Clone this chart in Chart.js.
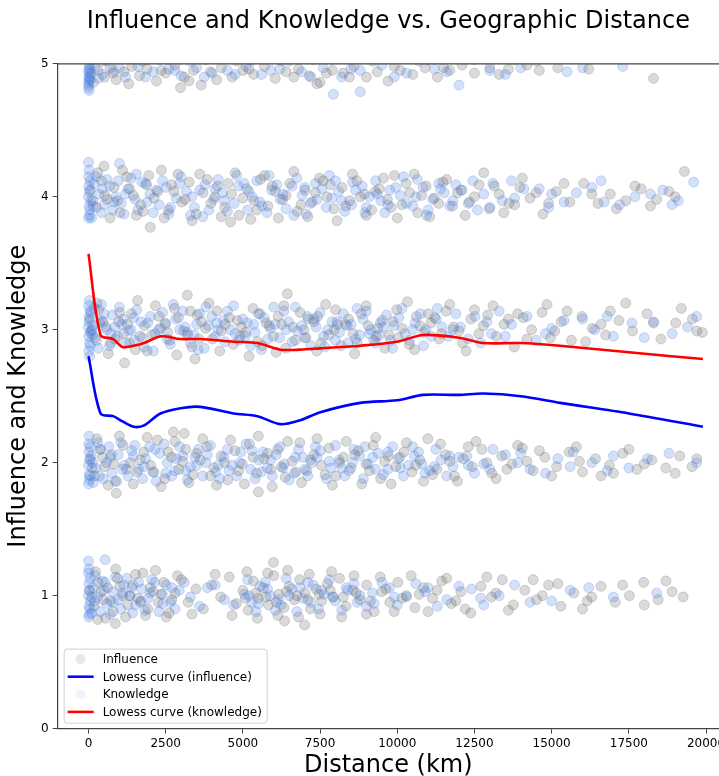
<!DOCTYPE html>
<html>
<head>
<meta charset="utf-8">
<script src="https://cdn.jsdelivr.net/npm/chart.js@4.4.1/dist/chart.umd.min.js"></script>
<style>
  body { margin: 0; background: #fff; }
</style>
</head>
<body>
<canvas id="chart" width="719" height="776"></canvas>
<script>
// axis ticks
const xTicks = [0, 2500, 5000, 7500, 10000, 12500, 15000, 17500, 20000];
const yTicks = [0, 1, 2, 3, 4, 5];

// lowess curves
const lowessX = [0, 390, 800, 1100, 1460, 1800, 2330, 2980, 3620, 4700, 5470, 6210, 6860, 7510, 8800, 10000, 10840, 12000, 12780, 14000, 15270, 17500, 19900];
const lowessInfluence = [2.80, 2.37, 2.35, 2.31, 2.27, 2.28, 2.37, 2.41, 2.42, 2.37, 2.35, 2.29, 2.32, 2.38, 2.45, 2.47, 2.51, 2.51, 2.52, 2.50, 2.45, 2.37, 2.27];
const lowessKnowledge = [3.57, 2.96, 2.93, 2.87, 2.88, 2.90, 2.95, 2.93, 2.93, 2.91, 2.90, 2.85, 2.85, 2.86, 2.88, 2.91, 2.96, 2.94, 2.90, 2.90, 2.88, 2.83, 2.78];

// influence scatter (distance km, score)
const influence1 = [[40,1.04],[180,0.92],[310,1.1],[470,0.97],[620,1.06],[790,0.88],[940,1.13],[1100,1.0],[1270,0.93],[1430,1.08],[1590,0.98],[1760,1.17],[1920,0.9],[2090,1.03],[2260,0.95],[2440,1.1],[2610,0.87],[2800,1.02],[3010,1.12],[3230,0.95],[3480,1.05],[3720,0.9],[3990,1.08],[4280,0.99],[4560,1.14],[4790,0.94],[5000,1.04],[5170,0.89],[5340,1.11],[5500,0.98],[5660,1.06],[5830,0.93],[6000,1.15],[6160,1.01],[6330,0.91],[6500,1.07],[6670,0.97],[6840,1.12],[7010,1.02],[7190,0.9],[7370,1.05],[7550,0.96],[7740,1.09],[7930,0.99],[8130,1.13],[8340,0.92],[8560,1.04],[8790,0.97],[9010,1.08],[9250,0.88],[9500,1.03],[9760,0.95],[10020,1.1],[10290,1.0],[10570,0.91],[10850,1.06],[11140,0.98],[11440,1.11],[11750,0.94],[12060,1.03],[12380,0.87],[12710,1.07],[13050,0.99],[13400,1.12],[13760,0.93],[14130,1.04],[14510,0.97],[14900,1.08],[15300,0.92],[15720,1.02],[16150,0.96],[16600,1.07],[17060,0.95],[17520,1.0],[17980,1.1],[18450,0.97],[18900,1.03],[19260,0.99],
  [100,0.99],[400,1.03],[710,0.96],[1020,1.07],[1350,1.0],[1680,0.95],[2000,1.06],[2350,1.01],[2700,0.97],[5080,0.98],[5420,1.02],[5750,0.99],[6080,0.95],[6410,1.03],[6750,1.0],[7100,0.97],[7460,1.01],[7830,1.04],[8250,0.99],[8670,1.02],[9130,0.96],[9630,1.05],[10160,0.98],[10710,1.01],[11290,1.04],[11900,0.96],[13200,1.02],[14700,1.0],[16300,0.99],[5990,1.25],
  [230,1.18],[550,0.83],[880,1.2],[1200,0.84],[1520,1.16],[1850,0.85],[2170,1.19],[2520,0.84],[2880,1.15],[3350,0.86],[4100,1.16],[4650,0.85],[5130,1.18],[5470,0.83],[5800,1.17],[6130,0.85],[6450,1.19],[6800,0.84],[7150,1.16],[7500,0.86],[7870,1.18],[8200,0.84],[8600,1.15],[9000,0.86],[9450,1.14],[9900,0.88],[10450,1.15],[11000,0.88],[11600,1.13],[12200,0.9],[12900,1.14],[13600,0.89],[14400,1.12],[15200,1.09],[16000,0.9],[17300,1.08],[18000,0.93],[18700,1.11],[300,0.82],[870,0.79],[6350,0.81],[7000,0.78]];
const influence2 = [[50,2.03],[190,1.9],[370,2.1],[520,1.97],[740,2.06],[910,1.86],[1120,2.13],[1350,2.0],[1570,1.93],[1790,2.08],[2010,1.98],[2230,2.17],[2470,1.88],[2690,2.04],[2930,1.95],[3150,2.1],[3380,1.91],[3620,2.02],[3840,2.12],[4060,1.96],[4290,2.05],[4510,1.87],[4740,2.09],[4980,1.99],[5210,2.14],[5440,1.92],[5680,2.03],[5910,1.95],[6130,2.1],[6370,1.89],[6600,2.01],[6840,2.15],[7070,1.94],[7300,2.06],[7540,1.98],[7790,2.11],[8010,1.9],[8260,2.04],[8500,1.96],[8740,2.09],[8990,1.99],[9220,2.13],[9460,1.88],[9710,2.05],[9950,1.97],[10210,2.08],[10470,1.93],[10730,2.02],[10990,2.18],[11280,1.95],[11560,2.06],[11850,1.9],[12140,2.03],[12430,1.97],[12740,2.1],[13060,1.92],[13380,2.05],[13710,1.99],[14050,2.11],[14400,1.94],[14780,2.04],[15160,1.97],[15570,2.08],[16000,1.93],[16420,2.03],[16870,1.98],[17300,2.07],[17760,1.95],[18240,2.02],[18700,1.96],[19150,2.05],[19550,1.97],
  [120,1.96],[450,2.04],[820,1.99],[1230,1.95],[1680,2.02],[2120,1.93],[2580,2.08],[3040,2.01],[3500,2.07],[3950,1.9],[4400,2.0],[4860,1.94],[5330,2.04],[5800,2.07],[6250,1.97],[6720,1.93],[7190,2.02],[7660,1.91],[8130,2.0],[8620,2.06],[9100,1.94],[9590,2.01],[10080,2.04],[10600,1.98],[11140,1.91],[11700,2.01],[12300,2.12],[12900,2.0],[13550,1.95],[14600,2.09],[15900,2.01],[17000,1.92],
  [270,2.18],[640,1.83],[1000,2.2],[1450,1.84],[1900,2.19],[2350,1.82],[2800,2.16],[3250,1.85],[3700,2.18],[4150,1.83],[4600,2.17],[5050,1.84],[5500,2.2],[5950,1.82],[6450,2.16],[6900,1.85],[7400,2.18],[7900,1.83],[8350,2.16],[8850,1.84],[9300,2.19],[9800,1.84],[10300,2.15],[10850,1.86],[11400,2.14],[11950,1.86],[12550,2.16],[13200,1.88],[13900,2.13],[14200,2.01],[15000,1.9],[15800,2.12],[16600,1.9],[17500,2.1],[18000,1.99],[19000,1.92],[19700,2.03],[2750,2.23],[3100,2.22],[900,1.77],[5500,1.78]];
const influence3 = [[40,3.08],[210,2.94],[330,3.15],[560,3.02],[720,2.9],[980,3.06],[1130,2.97],[1390,3.12],[1520,2.85],[1810,3.03],[2050,2.96],[2170,3.18],[2480,3.05],[2630,2.92],[2910,3.09],[3080,2.99],[3350,2.87],[3520,3.11],[3790,3.01],[4010,2.93],[4160,3.14],[4430,3.04],[4690,2.89],[4820,3.07],[5090,2.98],[5330,3.16],[5480,2.91],[5760,3.05],[5990,2.95],[6140,3.1],[6390,2.86],[6620,3.02],[6850,3.13],[7040,2.94],[7310,3.06],[7530,2.9],[7680,3.19],[7960,3.0],[8180,2.88],[8420,3.08],[8570,2.97],[8830,3.12],[9060,3.03],[9240,2.92],[9510,3.07],[9730,2.96],[9980,3.15],[10160,3.01],[10390,2.89],[10620,3.1],[10870,2.98],[11090,3.05],[11360,2.93],[11580,3.14],[11820,3.02],[12110,2.9],[12380,3.08],[12640,2.97],[12930,3.11],[13210,2.95],[13460,3.04],[13790,2.87],[14080,3.09],[14350,3.0],[14690,3.13],[14960,2.94],[15310,3.06],[15640,2.92],[15980,3.1],[16320,3.01],[16750,2.96],[17180,3.07],[17620,2.99],[18090,3.12],[18540,2.93],[19020,3.05],[19560,3.08],[19880,2.98],
  [90,2.99],[470,3.06],[860,2.93],[1260,3.04],[1660,2.95],[2330,3.01],[2780,3.16],[3210,2.96],[3660,3.06],[4300,2.99],[4950,3.02],[5620,2.88],[6260,3.04],[6980,3.0],[7420,3.1],[8060,3.04],[8700,2.9],[9370,3.01],[10030,2.94],[10740,3.03],[11210,3.09],[12000,2.99],[12790,3.03],[13600,3.08],[15100,2.99],[16600,3.04],
  [270,3.2],[640,2.82],[1010,3.13],[1330,2.9],[1590,3.22],[1900,2.84],[2280,3.1],[2560,2.98],[2860,2.81],[3300,3.14],[3580,2.93],[3900,3.2],[4250,2.84],[4560,3.09],[4900,2.95],[5200,2.8],[5550,3.12],[5850,3.03],[6080,2.83],[6330,3.18],[6700,2.92],[7120,3.08],[7390,2.84],[7780,2.96],[8000,3.15],[8330,3.04],[8620,2.82],[8990,3.18],[9320,2.95],[9600,2.86],[9860,3.06],[10330,3.21],[10560,2.85],[11000,3.12],[11430,2.97],[11700,3.19],[12230,2.84],[12500,3.15],[13100,3.18],[13900,3.12],[14200,2.93],[14850,3.19],[15500,3.14],[16100,2.91],[16900,3.14],[17400,3.2],[18300,3.05],[19200,3.16],[19700,2.99],[3200,3.26],[6440,3.27],[1170,2.75],[3450,2.78]];
const influence4 = [[60,4.05],[250,3.92],[420,4.12],[610,3.98],[830,4.07],[1020,3.88],[1240,4.15],[1450,4.01],[1690,3.94],[1880,4.09],[2120,3.99],[2360,4.2],[2590,3.9],[2770,4.04],[3020,3.96],[3260,4.11],[3490,3.87],[3710,4.03],[3960,3.95],[4180,4.08],[4410,3.92],[4630,4.02],[4870,3.86],[5120,4.06],[5360,3.97],[5570,4.13],[5810,3.93],[6050,4.04],[6290,3.98],[6520,4.1],[6760,3.89],[7010,4.05],[7240,3.96],[7480,4.14],[7720,4.0],[7950,3.91],[8210,4.07],[8460,3.97],[8690,4.12],[8940,4.02],[9170,3.9],[9420,4.06],[9680,3.98],[9910,4.16],[10150,3.94],[10400,4.03],[10660,3.88],[10930,4.08],[11200,3.99],[11480,4.11],[11790,3.93],[12060,4.05],[12340,3.96],[12650,4.09],[12980,3.91],[13300,4.02],[13620,3.95],[13970,4.07],[14300,3.99],[14720,3.87],[15150,4.04],[15590,3.96],[16040,4.1],[16500,3.95],[16900,4.02],[17400,3.97],[17900,4.06],[18400,3.98],[18800,4.04],[19300,4.19],
  [140,3.97],[530,4.01],[940,3.97],[1330,4.06],[1770,3.89],[2240,4.04],[2690,4.09],[3130,3.98],[3600,4.17],[4090,4.0],[4520,4.1],[5000,3.99],[5450,3.9],[5950,4.08],[6400,4.01],[6880,3.94],[7350,4.03],[7830,4.09],[8330,3.93],[8800,4.0],[9290,4.04],[9800,3.92],[10280,4.1],[10790,4.01],[11340,3.95],[11950,4.03],[12500,4.0],[13140,4.08],[13800,3.94],[14500,4.03],
  [300,4.18],[700,3.84],[1100,4.2],[1550,3.86],[1950,4.16],[2450,3.84],[2900,4.17],[3350,3.82],[3850,4.13],[4300,3.85],[4750,4.18],[5250,3.83],[5700,4.16],[6150,3.84],[6650,4.19],[7100,3.85],[7600,4.12],[8050,3.82],[8550,4.17],[9000,3.86],[9550,4.14],[10000,3.84],[10550,4.17],[11050,3.85],[11600,4.13],[12200,3.86],[12800,4.18],[13450,3.88],[14050,4.14],[14900,3.95],[15400,4.1],[16300,4.02],[17100,3.91],[17700,4.08],[18200,3.93],[19000,4.0],[500,4.23],[2000,3.77],[4600,3.81]];
const influence5 = [[80,4.93],[300,4.95],[520,4.9],[700,4.97],[900,4.88],[1150,4.94],[1400,4.98],[1650,4.91],[1900,4.96],[2200,4.87],[2500,4.93],[2800,4.99],[3100,4.9],[3400,4.95],[3650,4.84],[3950,4.94],[4300,4.97],[4650,4.9],[5000,4.95],[5350,4.92],[5700,4.98],[6050,4.89],[6400,4.94],[6800,4.96],[7150,4.91],[7500,4.86],[7900,4.95],[8250,4.93],[8600,4.98],[9000,4.9],[9350,4.94],[9700,4.87],[10100,4.95],[10500,4.92],[10900,4.97],[11300,4.9],[11700,4.95],[12100,4.99],[12500,4.93],[13000,4.97],[13600,4.96],[14200,4.99],[15200,4.97],[16200,4.96],[18300,4.89],[2000,5.05],[6000,5.04],[9000,5.06],[11000,5.03],
  [150,4.86],[450,5.02],[800,4.93],[1050,5.05],[1300,4.85],[1750,5.02],[2350,4.95],[2650,5.05],[3250,4.87],[3800,5.03],[4150,4.88],[4800,5.02],[5200,4.96],[5500,5.06],[6250,5.02],[6650,4.9],[7300,5.03],[7700,4.93],[8100,5.05],[8450,4.9],[9200,5.02],[9900,4.98],[10700,5.04],[11500,4.97],[12300,5.05],[13300,4.92],[13800,5.03],[14600,4.95],[2980,4.82],[7400,4.85]];

// knowledge scatter (distance km, score)
const knowledge1 = [[0,1.0],[10,1.09],[20,0.92],[5,1.17],[30,0.86],[25,1.04],[60,0.96],[150,1.06],[290,0.99],[450,1.11],[600,0.94],[780,1.03],[960,0.97],[1140,1.08],[1330,1.0],[1520,0.93],[1720,1.05],[1930,0.98],[2150,1.1],[2390,1.01],[2650,0.95],[2940,1.04],[3300,0.99],[3850,1.06],[4400,0.97],[5050,1.01],[5280,0.95],[5560,1.07],[5880,1.0],[6230,0.93],[6580,1.05],[6930,0.98],[7280,1.08],[7630,1.01],[7990,0.96],[8390,1.04],[8800,1.0],[9250,0.94],[9750,1.06],[10300,0.99],[10900,1.03],[11600,0.97],[12400,1.05],[13300,1.0],[14300,0.95],[15600,1.04],[17000,0.99],[18400,1.02],[0,1.26],[540,1.27],
  [3,0.84],[15,1.2],[40,0.9],[50,1.13],[100,0.87],[220,1.15],[380,0.88],[530,1.1],[700,0.86],[870,1.14],[1050,0.9],[1240,1.13],[1430,0.87],[1620,1.1],[1830,0.89],[2050,1.12],[2280,0.88],[2520,1.08],[2800,0.9],[3100,1.1],[3600,0.92],[4100,1.08],[4700,0.93],[5150,1.12],[5420,0.88],[5720,1.1],[6050,0.89],[6400,1.13],[6750,0.88],[7100,1.1],[7450,0.9],[7800,1.12],[8200,0.89],[8600,1.09],[9000,0.92],[9500,1.1],[10000,0.93],[10600,1.09],[11300,0.92],[12000,1.07],[12800,0.93],[13800,1.08],[15000,0.96],[16200,1.06],
  [200,0.96],[500,1.04],[800,0.95],[1100,1.02],[1400,1.06],[1700,0.96],[2000,1.02],[2400,0.94],[2700,1.06],[5200,1.0],[5500,0.94],[5800,1.05],[6150,0.97],[6500,1.0],[6850,1.06],[7200,0.95],[7550,1.04],[7900,0.99],[8350,1.06],[8700,0.95],[9200,1.02],[9900,0.99],[11000,1.06],[12700,0.98]];
const knowledge2 = [[0,1.98],[12,2.08],[22,1.91],[6,2.14],[40,2.02],[30,1.87],[90,2.05],[230,1.96],[400,2.1],[580,2.0],[760,1.92],[960,2.06],[1160,1.98],[1400,2.09],[1620,1.95],[1850,2.03],[2080,1.93],[2310,2.07],[2550,2.0],[2800,1.94],[3060,2.05],[3300,1.97],[3560,2.1],[3800,2.0],[4120,1.93],[4380,2.04],[4650,1.98],[4930,2.08],[5250,1.95],[5520,2.02],[5790,1.96],[6080,2.06],[6340,1.99],[6660,1.92],[6950,2.04],[7230,2.0],[7510,2.09],[7850,1.96],[8120,2.02],[8440,1.94],[8780,2.05],[9050,1.99],[9380,2.07],[9690,1.95],[10020,2.03],[10360,1.98],[10690,2.08],[11050,1.94],[11420,2.02],[11800,1.97],[12250,2.05],[12800,1.99],[13500,2.06],[14300,1.95],[15200,2.03],[16300,2.0],[17500,1.96],[18800,2.07],[19700,2.0],
  [3,1.84],[18,2.2],[45,1.9],[60,2.12],[150,1.85],[300,2.15],[480,1.88],[660,2.12],[860,1.86],[1050,2.15],[1280,1.9],[1500,2.13],[1750,1.88],[1980,2.12],[2200,1.86],[2450,2.14],[2700,1.9],[2950,2.12],[3200,1.87],[3450,2.04],[3700,1.9],[3950,2.13],[4250,1.88],[4500,2.1],[4800,1.9],[5100,2.14],[5400,1.88],[5650,2.08],[5950,1.9],[6200,2.12],[6500,1.87],[6800,2.1],[7100,1.9],[7400,2.04],[7700,1.88],[8000,2.13],[8300,1.9],[8600,2.1],[8900,1.88],[9200,2.04],[9550,1.91],[9850,2.12],[10200,1.9],[10550,2.05],[10900,1.92],[11250,2.1],[11600,1.9],[12000,2.04],[12500,1.92],[13100,2.1],[13900,2.0],[14800,1.92],[15700,2.08],[16800,1.94],[18100,2.03],
  [130,2.0],[350,1.9],[700,2.04],[1100,1.95],[1450,2.05],[1800,1.97],[2150,2.1],[2500,1.92],[2850,2.03],[3150,1.94],[3500,1.98],[3850,2.06],[4200,1.98],[4550,1.94],[4900,2.0],[5300,2.09],[5600,1.93],[5900,2.02],[6300,1.96],[6700,2.04],[7000,1.95],[7350,2.12],[7800,2.01],[8200,1.96],[8550,2.0],[8950,2.12],[9300,1.95],[9700,2.08],[10100,1.96],[10500,2.12],[10800,1.99],[11200,1.97],[11700,2.05],[12300,1.98],[13000,1.95],[14000,2.07],[15600,1.97],[17000,2.05]];
const knowledge3 = [[0,3.02],[10,2.95],[20,3.1],[30,2.9],[15,3.06],[50,2.98],[80,3.13],[140,3.03],[260,2.92],[410,3.07],[590,3.0],[770,3.11],[940,2.95],[1080,3.04],[1310,2.99],[1460,3.09],[1740,2.94],[1920,3.05],[2260,3.0],[2540,2.93],[2820,3.08],[3130,3.02],[3410,2.96],[3600,3.12],[3880,3.03],[4090,2.95],[4370,3.07],[4600,3.0],[4880,2.92],[5150,3.05],[5390,2.98],[5690,3.09],[5890,3.01],[6190,2.94],[6480,3.06],[6760,2.99],[7090,3.1],[7370,3.02],[7610,2.95],[7890,3.06],[8130,2.98],[8380,3.03],[8650,2.93],[8890,3.08],[9130,3.0],[9420,2.96],[9650,3.11],[9890,3.03],[10250,2.97],[10580,3.05],[10920,3.0],[11270,3.08],[11650,2.95],[12050,3.02],[12520,3.1],[13050,2.97],[13700,3.04],[14500,2.92],[15400,3.07],[16400,3.0],[17600,3.05],[18900,2.97],[19700,3.1],
  [5,3.18],[12,2.84],[28,3.22],[35,2.8],[45,3.14],[60,2.88],[110,3.0],[190,3.16],[320,2.86],[360,3.05],[500,3.12],[680,2.88],[850,3.02],[1000,3.17],[1200,2.9],[1380,3.0],[1560,3.15],[1800,2.87],[2000,3.1],[2150,2.97],[2400,3.13],[2650,2.89],[2950,3.0],[3050,3.14],[3300,2.9],[3500,3.04],[3750,2.86],[3990,3.1],[4200,3.0],[4500,3.14],[4750,2.97],[5000,3.08],[5250,2.88],[5500,3.12],[5800,2.93],[6050,3.04],[6330,3.14],[6600,2.91],[6900,3.03],[7200,2.88],[7500,3.13],[7750,3.0],[8000,2.92],[8250,3.12],[8500,3.04],[8780,2.96],[9000,3.14],[9300,2.9],[9550,3.02],[9780,2.92],[10050,3.09],[10400,2.92],[10750,3.12],[11100,2.95],[11450,3.02],[11900,3.12],[12300,2.93],[12900,3.06],[13500,2.95],[14200,3.1],[15000,3.01],[16000,3.08],[17000,2.95],[18300,3.06],[19400,3.02],
  [130,2.96],[420,3.19],[730,2.97],[1120,3.08],[1480,2.92],[1700,3.06],[2100,2.84],[2500,3.04],[2750,3.19],[3200,2.98],[3550,2.85],[3800,3.17],[4150,3.05],[4420,2.91],[4700,3.18],[5080,2.95],[5350,3.04],[5600,2.85],[6000,3.17],[6400,3.0],[6700,3.17],[7000,2.94],[7300,3.08],[7650,2.87],[8050,3.06],[8400,2.9],[8700,3.16],[9100,2.97],[9450,3.05],[9850,2.86],[10150,3.16],[10500,3.0],[10850,2.88],[11300,3.16],[11800,3.0],[12700,2.9],[13300,3.14],[14800,2.97],[16800,3.1],[18000,2.94]];
const knowledge4 = [[0,4.0],[10,4.08],[20,3.93],[5,4.15],[35,3.86],[25,4.04],[70,3.97],[180,4.1],[340,4.02],[500,3.94],[690,4.08],[880,4.0],[1060,3.95],[1280,4.06],[1510,3.98],[1730,4.11],[1990,4.02],[2280,3.94],[2510,4.07],[2840,3.99],[3170,4.04],[3430,3.92],[3770,4.09],[4050,3.98],[4340,4.03],[4720,3.95],[5040,4.1],[5300,4.0],[5620,3.93],[5930,4.05],[6210,3.98],[6590,4.08],[6920,4.01],[7190,3.95],[7560,4.06],[7880,3.99],[8100,4.04],[8520,3.94],[8860,4.08],[9100,4.0],[9470,3.97],[9760,4.05],[10100,4.01],[10500,3.93],[10840,4.07],[11150,3.98],[11520,4.03],[11900,4.09],[12300,3.95],[12800,4.02],[13400,3.97],[14100,4.06],[14900,3.92],[15800,4.03],[16700,3.96],[17700,4.0],[18600,4.05],[19600,4.11],[0,4.26],[1000,4.25],
  [3,3.84],[18,4.2],[40,3.9],[55,4.12],[100,3.84],[250,4.15],[420,3.88],[600,4.13],[780,3.9],[960,4.12],[1150,3.87],[1380,4.14],[1600,3.9],[1850,4.1],[2100,3.88],[2400,4.12],[2650,3.92],[2950,4.1],[3300,3.86],[3600,4.05],[3900,3.9],[4200,4.13],[4500,3.89],[4850,4.08],[5150,3.9],[5450,4.12],[5780,3.88],[6100,4.09],[6400,3.91],[6750,4.14],[7050,3.87],[7350,4.1],[7700,3.92],[8000,4.12],[8300,3.89],[8650,4.05],[9000,3.92],[9300,4.12],[9600,3.88],[9950,4.07],[10300,3.95],[10650,4.13],[11000,3.9],[11350,4.1],[11700,3.93],[12100,4.05],[12600,3.9],[13100,4.1],[13800,3.99],[14600,4.06],[15400,3.96],[16300,4.07],[17200,3.94],[18200,4.02],[19100,3.97],
  [150,3.93],[450,4.06],[820,3.96],[1200,4.02],[1550,4.17],[1900,3.96],[2200,4.05],[2600,3.87],[3000,4.15],[3350,4.0],[3700,3.85],[4100,4.06],[4400,3.97],[4800,4.16],[5200,4.04],[5550,3.96],[5850,4.16],[6300,4.02],[6650,3.86],[7000,4.07],[7400,3.98],[7800,4.16],[8200,3.97],[8550,4.11],[8950,3.88],[9350,4.02],[9700,3.94],[10200,4.15],[10600,4.0],[10950,3.86],[11400,4.06],[11800,3.97],[12450,4.12],[13000,3.92],[13700,4.12],[15000,4.02],[16600,4.12],[18900,3.94]];
const knowledge5 = [[0,4.95],[10,4.9],[20,4.98],[5,4.86],[15,4.93],[30,5.0],[25,4.88],[40,4.96],[8,4.84],[200,4.97],[450,4.92],[800,4.95],[1200,4.9],[1600,4.98],[2100,4.94],[2600,4.96],[3000,4.91],[3500,4.97],[4000,4.93],[4500,4.95],[5100,4.98],[5600,4.92],[6200,4.96],[6900,4.94],[7600,4.97],[8200,4.9],[8800,4.95],[9500,4.99],[10300,4.93],[11200,4.96],[12000,4.84],[13000,4.95],[14000,4.97],[15500,4.94],
  [2,4.82],[12,5.04],[22,4.8],[35,4.9],[18,5.08],[50,4.88],[120,5.03],[320,4.89],[600,5.02],[1000,4.97],[1400,5.04],[1850,4.9],[2300,5.03],[2800,4.95],[3300,5.02],[3750,4.9],[4250,5.04],[4750,4.92],[5300,5.03],[5900,4.95],[6500,5.02],[7200,4.9],[7900,5.03],[8500,4.96],[9200,5.04],[9900,4.9],[10700,5.02],[11600,4.94],[12500,5.03],[13500,4.92],[14500,5.02],[16000,4.97],[17300,4.98],[7930,4.77],[8800,4.79]];

const toXY = (pairs) => pairs.map(p => ({ x: p[0], y: p[1] }));
const lowessPoints = (ys) => lowessX.map((x, i) => ({ x: x, y: ys[i] }));

const FONT = 'DejaVu Sans';
const GRAY = 'rgba(80,80,80,0.21)';
const LIGHTBLUE = 'rgba(65,120,225,0.23)';

// top spine + legend in lower left corner of the axes
Chart.register({
    id: 'axesExtras',
    afterDraw(chart) {
        const { ctx, chartArea } = chart;
        ctx.save();
        ctx.strokeStyle = '#444';
        ctx.lineWidth = 1.2;
        ctx.beginPath();
        ctx.moveTo(chartArea.left, chartArea.top);
        ctx.lineTo(chartArea.right, chartArea.top);
        ctx.stroke();

        const items = chart.data.datasets.slice().sort((a, b) => a.legendIndex - b.legendIndex);
        const x0 = chartArea.left + 6;
        const w = 203, h = 74;
        const y0 = chartArea.bottom - 6 - h;
        ctx.fillStyle = 'rgba(255,255,255,0.8)';
        ctx.strokeStyle = '#d0d0d0';
        ctx.lineWidth = 1;
        ctx.beginPath();
        ctx.roundRect(x0 + 0.5, y0 + 0.5, w, h, 3);
        ctx.fill();
        ctx.stroke();

        ctx.font = `12px ${FONT}`;
        ctx.textBaseline = 'middle';
        ctx.textAlign = 'left';
        items.forEach((ds, i) => {
            const cy = y0 + 10.5 + i * 17.6;
            if (ds.showLine) {
                ctx.strokeStyle = ds.borderColor;
                ctx.lineWidth = 2.5;
                ctx.beginPath();
                ctx.moveTo(x0 + 4, cy);
                ctx.lineTo(x0 + 30, cy);
                ctx.stroke();
            } else {
                // legend markers are drawn fainter, like the single points
                ctx.fillStyle = ds.legendColor;
                ctx.beginPath();
                ctx.arc(x0 + 17, cy, 5, 0, Math.PI * 2);
                ctx.fill();
            }
            ctx.fillStyle = '#000';
            ctx.fillText(ds.label, x0 + 39, cy + 1);
        });
        ctx.restore();
    }
});

const scatterStyle = (color) => ({
    backgroundColor: color,
    borderColor: color,
    borderWidth: 1,
    pointRadius: 5,
    pointHoverRadius: 5,
    clip: 0
});

new Chart(document.getElementById('chart'), {
    type: 'scatter',
    data: {
        datasets: [
            {
                label: 'Lowess curve (influence)',
                data: lowessPoints(lowessInfluence),
                showLine: true,
                borderColor: '#0000ff',
                borderWidth: 2.6,
                pointRadius: 0,
                tension: 0.3,
                order: 0,
                legendIndex: 1
            },
            {
                label: 'Lowess curve (knowledge)',
                data: lowessPoints(lowessKnowledge),
                showLine: true,
                borderColor: '#ff0000',
                borderWidth: 2.6,
                pointRadius: 0,
                tension: 0.3,
                order: 0,
                legendIndex: 3
            },
            {
                label: 'Influence',
                data: toXY([].concat(influence1, influence2, influence3, influence4, influence5)),
                ...scatterStyle(GRAY),
                legendColor: 'rgba(80,80,80,0.13)',
                order: 2,
                legendIndex: 0
            },
            {
                label: 'Knowledge',
                data: toXY([].concat(knowledge1, knowledge2, knowledge3, knowledge4, knowledge5)),
                ...scatterStyle(LIGHTBLUE),
                legendColor: 'rgba(65,120,225,0.08)',
                order: 1,
                legendIndex: 2
            }
        ]
    },
    options: {
        responsive: false,
        animation: false,
        events: [],
        devicePixelRatio: 1,
        layout: { autoPadding: false, padding: { left: 7, right: 0, top: 0, bottom: -2 } },
        plugins: {
            legend: { display: false },
            tooltip: { enabled: false },
            title: {
                display: true,
                text: 'Influence and Knowledge vs. Geographic Distance',
                fullSize: false,
                color: '#000',
                font: { family: FONT, size: 24, weight: 'normal' },
                padding: { top: 7, bottom: 28 }
            }
        },
        scales: {
            x: {
                type: 'linear',
                min: -1000,
                max: 20420,
                afterBuildTicks: (axis) => { axis.ticks = xTicks.map(v => ({ value: v })); },
                afterFit: (axis) => { axis.paddingRight = 0; },
                border: { color: '#444', width: 1.2 },
                grid: { drawOnChartArea: false, color: '#444', tickLength: 5 },
                ticks: { color: '#000', font: { family: FONT, size: 12 }, padding: 3, maxRotation: 0, callback: (v) => String(v) },
                title: {
                    display: true,
                    text: 'Distance (km)',
                    color: '#000',
                    font: { family: FONT, size: 24, lineHeight: 1.0 },
                    padding: { top: 0, bottom: 0 }
                }
            },
            y: {
                type: 'linear',
                min: 0,
                max: 5,
                afterBuildTicks: (axis) => { axis.ticks = yTicks.map(v => ({ value: v })); },
                border: { color: '#444', width: 1.2 },
                grid: { drawOnChartArea: false, color: '#444', tickLength: 5 },
                ticks: { color: '#000', font: { family: FONT, size: 12 }, padding: 4, callback: (v) => String(v) },
                title: {
                    display: true,
                    text: 'Influence and Knowledge',
                    color: '#000',
                    font: { family: FONT, size: 24, lineHeight: 1.0 },
                    padding: { top: 0, bottom: 6 }
                }
            }
        }
    }
});
</script>
</body>
</html>
